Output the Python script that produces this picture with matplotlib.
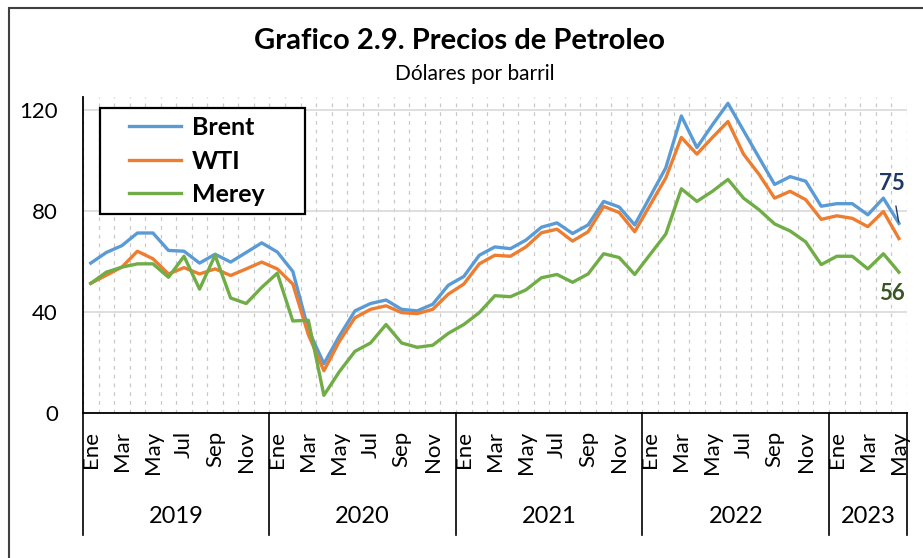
import numpy as np
import matplotlib.pyplot as plt
from matplotlib.lines import Line2D
from matplotlib.legend_handler import HandlerLine2D
from matplotlib.patches import Rectangle
from matplotlib.transforms import blended_transform_factory

plt.rcParams['font.family'] = ['Lato', 'DejaVu Sans']

years = ['2019', '2020', '2021', '2022', '2023']
months_per_year = [12, 12, 12, 12, 5]
month_names = ['Ene', 'Feb', 'Mar', 'Abr', 'May', 'Jun',
               'Jul', 'Ago', 'Sep', 'Oct', 'Nov', 'Dic']

# Dolares por barril, promedio mensual (Ene 2019 - May 2023)
brent = [59.3, 63.5, 66.2, 71.2, 71.2, 64.3, 64.0, 59.3, 62.8, 59.7, 63.5, 67.3,
         63.7, 56.0, 33.0, 19.5, 30.5, 40.4, 43.3, 44.7, 41.0, 40.4, 43.0, 50.5,
         54.0, 62.4, 65.7, 65.0, 68.4, 73.5, 75.2, 71.0, 74.4, 83.7, 81.5, 74.4,
         85.7, 97.0, 117.5, 105.0, 114.0, 122.5, 111.7, 101.0, 90.4, 93.5, 91.7, 81.8,
         82.8, 82.8, 78.4, 85.0, 75.0]
wti = [51.3, 54.5, 57.7, 64.0, 61.0, 55.0, 57.5, 55.0, 57.0, 54.4, 57.0, 59.7,
       57.0, 51.0, 31.0, 16.7, 28.4, 37.7, 41.0, 42.4, 39.7, 39.3, 41.0, 47.0,
       51.0, 59.0, 62.4, 62.0, 65.7, 71.3, 72.7, 68.0, 71.7, 81.7, 79.3, 71.7,
       82.4, 93.0, 109.0, 102.4, 109.0, 115.3, 102.4, 94.4, 85.0, 87.7, 84.4, 76.6,
       78.0, 77.0, 73.7, 79.7, 69.0]
merey = [51.3, 55.7, 57.7, 59.0, 59.0, 53.7, 62.0, 49.0, 62.4, 45.5, 43.3, 49.7,
         55.3, 36.4, 36.7, 7.0, 16.4, 24.4, 27.7, 35.0, 27.7, 26.0, 26.8, 31.5,
         35.0, 39.7, 46.4, 46.0, 48.7, 53.5, 54.8, 51.7, 55.0, 63.0, 61.5, 54.8,
         62.8, 70.8, 88.7, 83.7, 87.7, 92.4, 85.0, 80.4, 74.8, 72.0, 67.7, 58.7,
         62.0, 62.0, 57.0, 63.0, 55.7]

months = [month_names[m] for n in months_per_year for m in range(n)]
x = np.arange(len(brent))

fig = plt.figure(figsize=(9.23, 5.58), dpi=100)
ax = fig.add_axes([83 / 923, 145 / 558, 823.7 / 923, 316 / 558])

ax.plot(x, brent, color='#5B9BD5', lw=2.4, label='Brent')
ax.plot(x, wti, color='#ED7D31', lw=2.4, label='WTI')
ax.plot(x, merey, color='#70AD47', lw=2.4, label='Merey')

ax.set_xlim(-0.5, len(x) - 0.5)
ax.set_ylim(0, 125)

# ejes y rejilla
ax.set_yticks([0, 40, 80, 120])
ax.tick_params(axis='y', length=0, pad=18, labelsize=16)
ax.yaxis.grid(True, color='#D9D9D9', lw=1.2)
ax.set_xticks(x[::2])
ax.set_xticklabels(months[::2], rotation=90, fontsize=16)
ax.set_xticks(np.arange(-0.5, len(x), 1), minor=True)
ax.tick_params(axis='x', which='both', length=0, pad=13)
ax.xaxis.grid(True, which='minor', color='#C8C8C8', lw=0.9, dashes=(3, 4))
ax.set_axisbelow(True)
for side in ['top', 'right']:
    ax.spines[side].set_visible(False)
ax.spines['left'].set_linewidth(1.3)
ax.spines['bottom'].set_linewidth(1.3)

# grupos de anos debajo de los meses
trans = blended_transform_factory(ax.transData, ax.transAxes)
edges = np.concatenate([[0], np.cumsum(months_per_year)]) - 0.5
for e in edges:
    ax.plot([e, e], [0, -0.386], transform=trans, color='black', lw=1.2, clip_on=False)
for yr, a, b in zip(years, edges[:-1], edges[1:]):
    ax.text((a + b) / 2, -0.329, yr, transform=trans, ha='center', va='center', fontsize=17)

leg = ax.legend(loc='upper left', bbox_to_anchor=(0.0206, 0.965, 0.249, 0.0),
                mode='expand', borderaxespad=0, prop={'weight': 'bold', 'size': 18},
                handlelength=2.92, handletextpad=0.45, labelspacing=0.42,
                borderpad=0.32, fancybox=False, framealpha=1, edgecolor='black',
                handler_map={Line2D: HandlerLine2D(xpad=0.84)})
leg.get_frame().set_linewidth(1.6)

# etiquetas del ultimo dato
ax.annotate(f"{brent[-1]:.0f}", xy=(x[-1], brent[-1]), xytext=(-5, 29),
            textcoords='offset points', ha='center', va='center',
            fontsize=16, fontweight='bold', color='#1F3864',
            arrowprops=dict(arrowstyle='-', color='#1F3864', lw=1, shrinkA=7, shrinkB=1))
ax.annotate(f"{merey[-1]:.0f}", xy=(x[-1], merey[-1]), xytext=(-5, -15),
            textcoords='offset points', ha='center', va='center',
            fontsize=16, fontweight='bold', color='#375623')

fig.text(460 / 923, 1 - 41 / 558, 'Grafico 2.9. Precios de Petroleo',
         ha='center', va='center', fontsize=21, fontweight='bold')
fig.text(475 / 923, 1 - 74 / 558, 'Dólares por barril', ha='center', va='center', fontsize=15)

fig.patches.append(Rectangle((9 / 923, -0.02), 1.1, 1.02 - 8 / 558, transform=fig.transFigure,
                             fill=False, edgecolor='#404040', lw=1.5, clip_on=False))

fig.savefig('out.png', dpi=100)
